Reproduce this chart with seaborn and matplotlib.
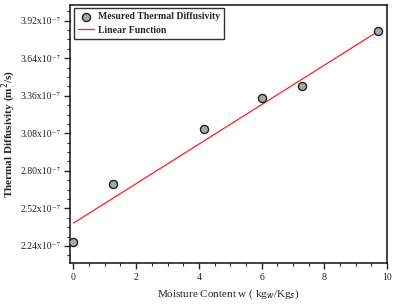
import numpy as np
import pandas as pd
import seaborn as sns
import matplotlib.pyplot as plt
from matplotlib.ticker import MultipleLocator, FixedLocator

# measured points (y in units of 1e-7 m2/s)
moisture = [0.0, 1.27, 4.17, 6.0, 7.29, 9.71]
diffusivity = [2.272, 2.70, 3.11, 3.345, 3.43, 3.84]

# linear function end points
line_x = [0.0, 9.71]
line_y = [2.41, 3.84]

ytick_vals = [2.24, 2.52, 2.80, 3.08, 3.36, 3.64, 3.92]
ytick_labels = [f"{v:.2f}x10\u207b\u2077" for v in ytick_vals]

sns.set_style("ticks")
plt.rcParams['font.family'] = ['Liberation Serif', 'DejaVu Serif']

df = pd.DataFrame({"w": moisture, "alpha": diffusivity})
df_line = pd.DataFrame({"w": line_x, "alpha": line_y})

fig, ax = plt.subplots(figsize=(3.95, 3.05), dpi=100)
fig.subplots_adjust(left=0.178, right=0.98, top=0.985, bottom=0.138)

sns.lineplot(data=df_line, x="w", y="alpha", color="#ff2020", lw=0.9,
             ax=ax, label="Linear Function")
sns.scatterplot(data=df, x="w", y="alpha", s=34, color="#a8a8a8",
                edgecolor="#202020", linewidth=1.0, ax=ax,
                label="Mesured Thermal Diffusivity", zorder=3)

ax.set_xlim(-0.1, 10.0)
ax.set_ylim(2.113, 4.04)
ax.xaxis.set_major_locator(MultipleLocator(2))
ax.xaxis.set_minor_locator(MultipleLocator(0.5))
ax.yaxis.set_major_locator(FixedLocator(ytick_vals))
ax.yaxis.set_minor_locator(MultipleLocator(0.07))
ax.set_yticklabels(ytick_labels)
ax.tick_params(axis="both", which="major", direction="out", length=4,
               width=1.0, labelsize=7, colors="#222222", pad=3)
ax.tick_params(axis="both", which="minor", direction="out", length=2, width=0.8)
for s in ax.spines.values():
    s.set_visible(True)
    s.set_linewidth(1.1)
    s.set_color("#111111")

ax.set_xlabel("Moisture Content w ( kg$_w$/Kg$_s$)", fontsize=8, labelpad=4)
ax.set_ylabel("Thermal Diffusivity (m$^2$/s)", fontsize=8, fontweight="bold")
ax.yaxis.set_label_coords(-0.165, 0.5)

h, l = ax.get_legend_handles_labels()
leg = ax.legend(h[::-1], l[::-1], loc="upper left",
                frameon=True, fancybox=False, borderpad=0.4,
                handlelength=1.6, handletextpad=0.4, labelspacing=0.45,
                borderaxespad=0.4, prop={"weight": "bold", "size": 7})
leg.get_frame().set_edgecolor("black")
leg.get_frame().set_linewidth(1.0)

fig.savefig("out.png", dpi=100)
